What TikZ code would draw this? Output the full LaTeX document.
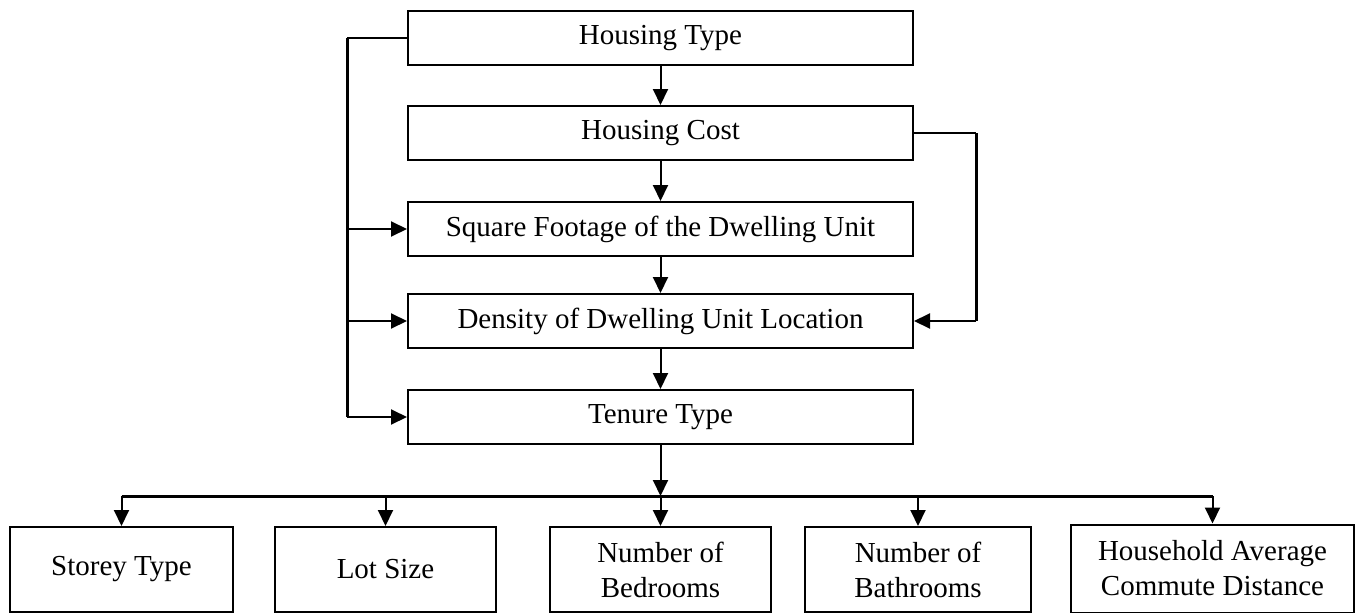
\documentclass[tikz,border=0pt]{standalone}
\usepackage{fontspec}
\setmainfont{Liberation Serif}
\usetikzlibrary{arrows.meta}
\begin{document}
\begin{tikzpicture}[x=1pt,y=-1pt,
  every node/.style={font=\fontsize{29}{35}\selectfont},
  mainbox/.style={draw,line width=2pt,minimum width=505pt,minimum height=54pt,inner sep=0pt},
  leafbox/.style={draw,line width=2pt,minimum height=85pt,inner sep=0pt,align=center},
  conn/.style={line width=2pt},
  thick conn/.style={line width=3pt},
  arr/.style={line width=2pt,-{Triangle[length=16pt,width=15pt]}}
]
\useasboundingbox (0,0) rectangle (1361,613);
% main column
\node[mainbox] (ht)  at (660.5,38)  {Housing Type};
\node[mainbox] (hc)  at (660.5,133) {Housing Cost};
\node[mainbox] (sq)  at (660.5,229) {Square Footage of the Dwelling Unit};
\node[mainbox] (den) at (660.5,321) {Density of Dwelling Unit Location};
\node[mainbox] (ten) at (660.5,417) {Tenure Type};
% leaves
\node[leafbox,minimum width=223pt] (b1) at (121.5,569.5) {Storey Type};
\node[leafbox,minimum width=221pt] (b2) at (385.5,569.5) {Lot Size};
\node[leafbox,minimum width=221pt] (b3) at (660.5,569.5) {Number of\\Bedrooms};
\node[leafbox,minimum width=226pt] (b4) at (918,569.5) {Number of\\Bathrooms};
\node[leafbox,minimum width=283pt,minimum height=88pt] (b5) at (1212.5,568.5) {Household Average\\Commute Distance};
% vertical chain
\draw[arr] (ht.south) -- (hc.north);
\draw[arr] (hc.south) -- (sq.north);
\draw[arr] (sq.south) -- (den.north);
\draw[arr] (den.south) -- (ten.north);
% left feedback line
\coordinate (L) at (347,38);
\draw[conn] (ht.west) -- (L);
\draw[thick conn] (L) -- (L |- ten.west);
\draw[arr] (L |- sq.west) -- (sq.west);
\draw[arr] (L |- den.west) -- (den.west);
\draw[arr] (L |- ten.west) -- (ten.west);
% right line
\coordinate (R) at (976,133);
\draw[conn] (hc.east) -- (R);
\draw[thick conn] (R) -- (R |- den.east);
\draw[arr] (R |- den.east) -- (den.east);
% bus
\coordinate (bus) at (660.5,496);
\draw[arr] (ten.south) -- (bus);
\draw[thick conn] (b1.north |- bus) -- (b5.north |- bus);
\foreach \b in {b1,b2,b3,b4,b5} {
  \draw[arr] (\b.north |- bus) -- (\b.north);
}
\end{tikzpicture}
\end{document}
